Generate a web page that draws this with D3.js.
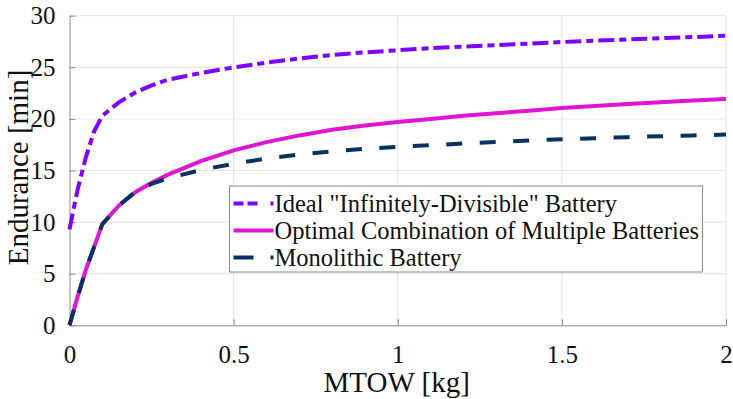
<!DOCTYPE html>
<html>
<head>
<meta charset="utf-8">
<script src="https://cdn.jsdelivr.net/npm/d3@7"></script>
<style>
  body { margin: 0; background: #fff; }
  .grid line { stroke: #e3e3e3; stroke-width: 1; }
  .axis path, .axis line { stroke: #8a8a8a; }
  .series { fill: none; stroke-width: 4; }
</style>
</head>
<body>
<div id="chart-container"></div>
<script>
const mtow = [0, 0.025, 0.05, 0.075, 0.1, 0.15, 0.2, 0.25, 0.3, 0.4, 0.5, 0.6, 0.7, 0.8, 0.9, 1.0,
              1.1, 1.2, 1.3, 1.4, 1.5, 1.6, 1.7, 1.8, 1.9, 2.0]
const idealEndurance = [9.3, 13.2, 16.3, 18.8, 20.3, 21.6, 22.55, 23.25, 23.8, 24.45, 25.0, 25.45, 25.85, 26.2, 26.45, 26.65,
                        26.85, 27.0, 27.15, 27.3, 27.45, 27.58, 27.7, 27.82, 27.93, 28.05]
const optimalEndurance = [0, 2.8, 5.4, 7.6, 9.8, 11.6, 12.9, 13.8, 14.6, 15.9, 16.95, 17.75, 18.4, 18.95, 19.35, 19.7,
                          20.0, 20.3, 20.55, 20.8, 21.05, 21.25, 21.45, 21.62, 21.78, 21.93]
const monolithicEndurance = [0, 2.8, 5.4, 7.6, 9.8, 11.6, 12.9, 13.7, 14.25, 15.05, 15.65, 16.15, 16.55, 16.85, 17.1, 17.3,
                             17.45, 17.62, 17.77, 17.9, 18.03, 18.13, 18.23, 18.32, 18.4, 18.48]
const seriesNames = ['Ideal "Infinitely-Divisible" Battery', 'Optimal Combination of Multiple Batteries', 'Monolithic Battery']
const xTicks = [0, 0.5, 1, 1.5, 2]
const yTicks = [0, 5, 10, 15, 20, 25, 30]

document.addEventListener('DOMContentLoaded', function(){

    const W = 733, H = 399
    const margin = {top: 15.7, right: 7, bottom: 73.7, left: 69.5}
    const width = W - margin.left - margin.right
    const height = H - margin.top - margin.bottom
    const serif = '"Liberation Serif", "Times New Roman", serif'

    const svg = d3.select('#chart-container')
        .append('svg')
        .attr('width', W)
        .attr('height', H)
        .append('g')
        .attr('transform', `translate(${margin.left}, ${margin.top})`)

    const x = d3.scaleLinear().domain([0, 2]).range([0, width])
    const y = d3.scaleLinear().domain([0, 30]).range([height, 0])

    // grid
    svg.append('g').attr('class', 'grid')
        .selectAll('line').data(xTicks.slice(1)).join('line')
        .attr('x1', d => x(d)).attr('x2', d => x(d))
        .attr('y1', 0).attr('y2', height)
    svg.append('g').attr('class', 'grid')
        .selectAll('line').data(yTicks.slice(1)).join('line')
        .attr('x1', 0).attr('x2', width)
        .attr('y1', d => y(d)).attr('y2', d => y(d))

    // axes, ticks pointing inward
    const xAxis = svg.append('g').attr('class', 'axis')
        .attr('transform', `translate(0,${height})`)
        .call(d3.axisBottom(x).tickValues(xTicks).tickFormat(d3.format('')).tickSizeInner(-6).tickSizeOuter(0).tickPadding(14))
    const yAxis = svg.append('g').attr('class', 'axis')
        .call(d3.axisLeft(y).tickValues(yTicks).tickSizeInner(-6).tickSizeOuter(0).tickPadding(14))
    svg.selectAll('.axis').attr('font-family', serif).attr('font-size', 25)
    svg.selectAll('.axis text').attr('fill', '#111')
    xAxis.selectAll('text').attr('dy', '0.95em')

    // axis labels
    svg.append('text')
        .attr('x', x(1) - 1)
        .attr('y', H - margin.top - 7)
        .attr('text-anchor', 'middle')
        .style('font-family', serif).style('font-size', '29px').attr('fill', '#111')
        .text('MTOW [kg]')
    svg.append('text')
        .attr('transform', `translate(${28 - margin.left}, ${y(15) - 3}) rotate(-90)`)
        .attr('text-anchor', 'middle')
        .style('font-family', serif).style('font-size', '29px').attr('fill', '#111')
        .text('Endurance [min]')

    const colors = ['#7f00ff', '#e014d2', '#07325f']
    const dashes = ['16,5,7,5', null, '16,17.5']
    const series = [idealEndurance, optimalEndurance, monolithicEndurance]

    const line = d3.line()
        .x((d, i) => x(mtow[i]))
        .y(d => y(d))

    series.forEach((s, k) => {
        svg.append('path')
            .datum(s)
            .attr('class', 'series')
            .attr('stroke', colors[k])
            .attr('stroke-dasharray', dashes[k])
            .attr('d', line)
    })

    // legend
    const lx = 229.5 - margin.left, ly = 186 - margin.top
    const legend = svg.append('g').attr('transform', `translate(${lx},${ly})`)
    legend.append('rect')
        .attr('width', 473).attr('height', 86)
        .attr('fill', '#fff').attr('stroke', '#8a8a8a').attr('stroke-width', 1)
    const legendDash = ['10,4,10,13,3,100', null, '20,17,3,100']
    seriesNames.forEach((name, k) => {
        const cy = 17.5 + k * 27
        legend.append('line')
            .attr('x1', 4).attr('x2', 44)
            .attr('y1', cy).attr('y2', cy)
            .attr('stroke', colors[k]).attr('stroke-width', 4)
            .attr('stroke-dasharray', legendDash[k])
        legend.append('text')
            .attr('x', 45).attr('y', cy)
            .attr('dy', '0.35em')
            .style('font-family', serif).style('font-size', '24.5px').attr('fill', '#111')
            .text(name)
    })
})
</script>
</body>
</html>
